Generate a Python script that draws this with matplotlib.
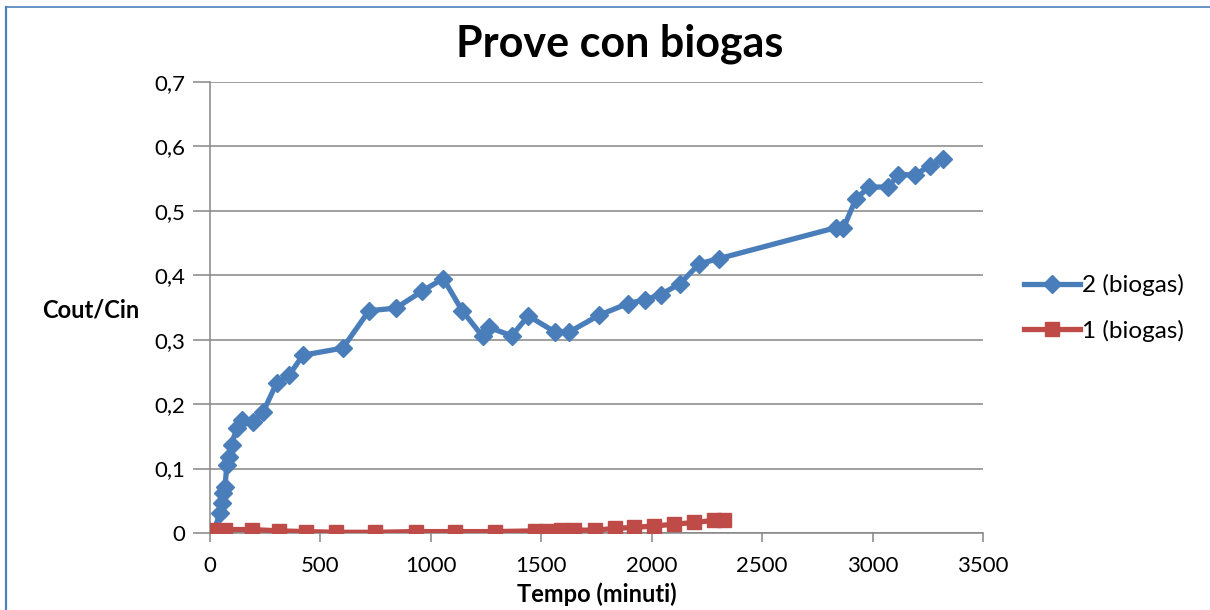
import matplotlib
matplotlib.use("Agg")
import matplotlib.pyplot as plt
from matplotlib.lines import Line2D

# data
tempo_2 = [15, 45, 53, 59, 68, 76, 86, 98, 121, 144, 195, 241, 302, 358, 421,
           601, 720, 841, 959, 1056, 1142, 1235, 1265, 1366, 1441, 1562, 1627,
           1761, 1891, 1970, 2040, 2128, 2216, 2306, 2835, 2868, 2925, 2985,
           3071, 3117, 3192, 3260, 3320]
cout_2 = [0.0, 0.031, 0.047, 0.062, 0.071, 0.106, 0.118, 0.137, 0.163, 0.175,
          0.173, 0.188, 0.233, 0.245, 0.276, 0.287, 0.345, 0.349, 0.375, 0.395,
          0.345, 0.305, 0.319, 0.306, 0.337, 0.312, 0.312, 0.338, 0.356, 0.362,
          0.370, 0.387, 0.418, 0.426, 0.474, 0.473, 0.519, 0.537, 0.537, 0.556,
          0.556, 0.570, 0.581]

tempo_1 = [10, 66, 190, 312, 435, 571, 749, 932, 1110, 1290, 1473, 1528, 1591,
           1647, 1742, 1834, 1922, 2012, 2100, 2191, 2282, 2327]
cout_1 = [0.0044, 0.0054, 0.0054, 0.0033, 0.0022, 0.0011, 0.0011, 0.0022,
          0.0022, 0.0022, 0.0033, 0.0033, 0.0044, 0.0044, 0.0044, 0.0071,
          0.0087, 0.0109, 0.0136, 0.0163, 0.0196, 0.0207]

x_ticks = [0, 500, 1000, 1500, 2000, 2500, 3000, 3500]
y_ticks = [0, 0.1, 0.2, 0.3, 0.4, 0.5, 0.6, 0.7]
y_labels = ["0", "0,1", "0,2", "0,3", "0,4", "0,5", "0,6", "0,7"]

BLUE = "#4a7ebb"
RED = "#be4b48"
GRID = "#868686"

plt.rcParams["font.family"] = ["Lato", "DejaVu Sans"]

W, H = 1210, 610
fig = plt.figure(figsize=(W / 100, H / 100), dpi=100)
ax = fig.add_axes([210 / W, 1 - 533 / H, (983 - 210) / W, (533 - 82) / H])

ax.plot(tempo_2, cout_2, color=BLUE, lw=3.8, marker="D", ms=9,
        label="2 (biogas)", zorder=3)
ax.plot(tempo_1, cout_1, color=RED, lw=3.8, marker="s", ms=9.5,
        label="1 (biogas)", zorder=3)

ax.set_xlim(0, 3500)
ax.set_ylim(0, 0.7)
ax.set_xticks(x_ticks)
ax.set_yticks(y_ticks)
ax.set_yticklabels(y_labels)

ax.grid(axis="y", color=GRID, lw=1.1)
ax.set_axisbelow(True)
for side in ["top", "right"]:
    ax.spines[side].set_visible(False)
for side in ["left", "bottom"]:
    ax.spines[side].set_color(GRID)
    ax.spines[side].set_linewidth(1.1)
ax.tick_params(axis="y", length=12, width=1.1, color=GRID, pad=6,
               labelsize=16)
ax.tick_params(axis="x", length=6.5, width=1.1, color=GRID, pad=10,
               labelsize=16)

fig.text(620 / W, 1 - 44 / H, "Prove con biogas", fontsize=31,
         fontweight="bold", ha="center", va="center")
fig.text(42 / W, 1 - 310 / H, "Cout/Cin", fontsize=17, fontweight="bold",
         ha="left", va="center")
fig.text(597 / W, 1 - 594 / H, "Tempo (minuti)", fontsize=17,
         fontweight="bold", ha="center", va="center")

ax.legend(loc="center left", bbox_to_anchor=(1007 / W, 1 - 308 / H),
          bbox_transform=fig.transFigure, frameon=False, fontsize=17.5,
          handlelength=2.3, handletextpad=0.1, labelspacing=0.95,
          borderpad=0.2)

# chart area border (top and left edges only visible)
fig.add_artist(Line2D([6 / W, 6 / W], [0, 1 - 7 / H], color="#4f81bd",
                      lw=1.6, transform=fig.transFigure))
fig.add_artist(Line2D([6 / W, 1], [1 - 7 / H, 1 - 7 / H], color="#4f81bd",
                      lw=1.2, transform=fig.transFigure))

fig.savefig("out.png", dpi=100)
